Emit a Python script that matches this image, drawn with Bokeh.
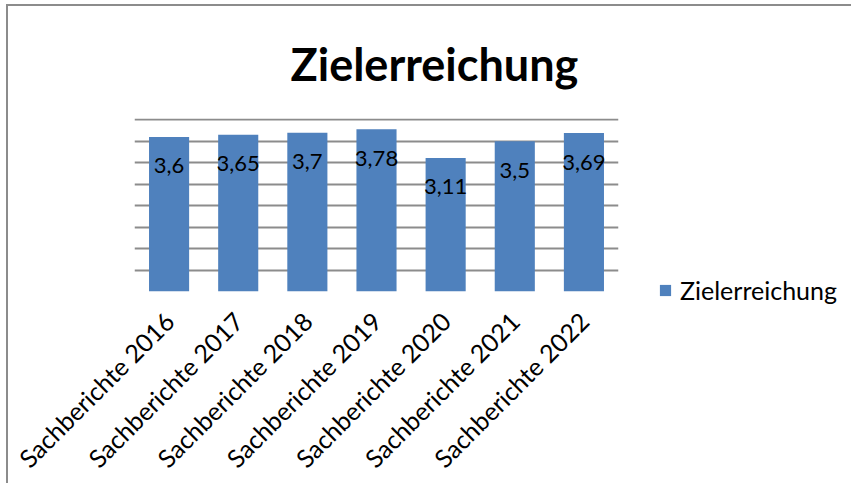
from math import pi
from bokeh.plotting import figure
from bokeh.models import (FactorRange, Range1d, FixedTicker, Legend,
                          LegendItem, ColumnDataSource)
from bokeh.embed import file_html
from bokeh.resources import INLINE

categories = ["Sachberichte 2016", "Sachberichte 2017", "Sachberichte 2018",
              "Sachberichte 2019", "Sachberichte 2020", "Sachberichte 2021",
              "Sachberichte 2022"]
values = [3.6, 3.65, 3.7, 3.78, 3.11, 3.5, 3.69]
value_labels = ["3,6", "3,65", "3,7", "3,78", "3,11", "3,5", "3,69"]
grid_ticks = [0, 0.5, 1, 1.5, 2, 2.5, 3, 3.5, 4]
series_name = "Zielerreichung"
chart_title = "Zielerreichung"

FONT = "Lato"
BLUE = "#4F81BD"
GRID = "#8c8c8c"

src = ColumnDataSource(dict(cat=categories, val=values, lab=value_labels))

p = figure(width=827, height=461, frame_width=484, frame_height=173,
           output_backend="svg", toolbar_location=None,
           title=chart_title,
           x_range=FactorRange(*categories, range_padding=0),
           y_range=Range1d(0, 4.03),
           min_border_left=126, min_border_right=217,
           min_border_top=110, min_border_bottom=160)
p.outline_line_color = None
p.background_fill_color = "white"
p.border_fill_color = "white"
p.styles = {"margin-left": "6px", "margin-top": "4px",
            "border-left": "2px solid #8c8c8c",
            "border-top": "2px solid #8c8c8c",
            "border-right": "none", "border-bottom": "none"}

p.title.align = "left"
p.title.offset = 156
p.title.standoff = 56
p.title.text_font = FONT
p.title.text_font_style = "bold"
p.title.text_font_size = "45px"
p.title.text_color = "black"

bars = p.vbar(x="cat", top="val", bottom=0, width=0.58, source=src,
              fill_color=BLUE, line_color=None)

p.text(x="cat", y="val", text="lab", source=src, y_offset=29,
       text_align="center", text_baseline="alphabetic",
       text_font_size="22px", text_color="black",
       text_font={"value": FONT})

p.yaxis.visible = False
p.ygrid.ticker = FixedTicker(ticks=grid_ticks)
p.ygrid.grid_line_color = GRID
p.ygrid.grid_line_width = 2
p.xgrid.grid_line_color = None

ax = p.xaxis[0]
ax.axis_line_color = None
ax.major_tick_line_color = None
ax.minor_tick_line_color = None
ax.major_tick_out = 0
ax.major_tick_in = 0
ax.major_label_orientation = pi / 4
ax.major_label_text_font = FONT
ax.major_label_text_font_size = "25px"
ax.major_label_text_color = "black"
ax.major_label_standoff = 25

legend = Legend(items=[LegendItem(label=series_name, renderers=[bars])],
                location=(40, -14), padding=0, margin=0,
                border_line_color=None, background_fill_alpha=0,
                glyph_width=14, glyph_height=14, label_standoff=8,
                label_text_font=FONT, label_text_font_size="25px",
                label_text_color="black")
p.add_layout(legend, "right")

open("out.html", "w").write(file_html(p, INLINE))
